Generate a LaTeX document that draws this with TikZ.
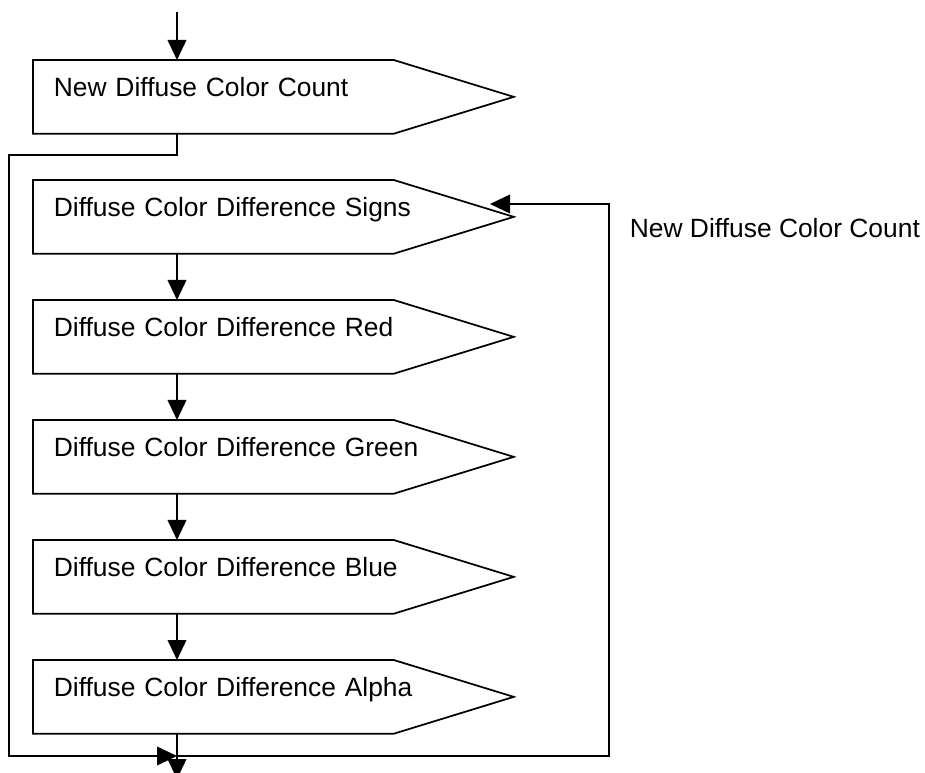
\documentclass[tikz,border=0pt]{standalone}
\usepackage{fontspec}
\setmainfont{Liberation Sans}
\usetikzlibrary{arrows.meta,calc}

\begin{document}
\begin{tikzpicture}[x=0.75pt,y=-0.75pt,line width=1.3pt,font=\fontsize{19.8}{23}\selectfont, tag/.style={anchor=north west,minimum width=359.25pt,minimum height=54pt,inner xsep=15pt,inner ysep=0pt,text width=329.25pt,align=left,text height=27pt,text depth=27pt}, arrow/.style={-{Triangle[length=15pt,width=14pt]}}]
\useasboundingbox (0,0) rectangle (925,773);
\coordinate (col) at (177,0);
\node[tag] (cnt) at (33,60) {New Diffuse Color Count};
\node[tag] (sgn) at (33,180) {Diffuse Color Difference Signs};
\node[tag] (red) at (33,300) {Diffuse Color Difference Red};
\node[tag] (grn) at (33,420) {Diffuse Color Difference Green};
\node[tag] (blu) at (33,540) {Diffuse Color Difference Blue};
\node[tag] (alp) at (33,660) {Diffuse Color Difference Alpha};
\node[anchor=base west,inner sep=0pt] (lbl) at (629,238) {New Diffuse Color Count};
% pointed outlines
\draw (cnt.north west) -- ($(cnt.north east)+(-120,0)$) -- (cnt.east) -- ($(cnt.south east)+(-120,0)$) -- (cnt.south west) -- cycle;
\draw (sgn.north west) -- ($(sgn.north east)+(-120,0)$) -- (sgn.east) -- ($(sgn.south east)+(-120,0)$) -- (sgn.south west) -- cycle;
\draw (red.north west) -- ($(red.north east)+(-120,0)$) -- (red.east) -- ($(red.south east)+(-120,0)$) -- (red.south west) -- cycle;
\draw (grn.north west) -- ($(grn.north east)+(-120,0)$) -- (grn.east) -- ($(grn.south east)+(-120,0)$) -- (grn.south west) -- cycle;
\draw (blu.north west) -- ($(blu.north east)+(-120,0)$) -- (blu.east) -- ($(blu.south east)+(-120,0)$) -- (blu.south west) -- cycle;
\draw (alp.north west) -- ($(alp.north east)+(-120,0)$) -- (alp.east) -- ($(alp.south east)+(-120,0)$) -- (alp.south west) -- cycle;
% loop points
\coordinate (start) at (177,12);\coordinate (lt) at (9,155);\coordinate (lb) at (9,756);\coordinate (join) at (177,756);\coordinate (rb) at (609,756);\coordinate (in) at (490,204);\coordinate (out) at (177,779);
\draw[arrow] (start) -- (cnt.north -| col);
\draw[arrow] (cnt.south -| col) |- (lt) -- (lb) -- (join);
\draw[arrow] (join) -- (rb) |- (in);
\draw[arrow] (sgn.south -| col) -- (red.north -| col);\draw[arrow] (red.south -| col) -- (grn.north -| col);\draw[arrow] (grn.south -| col) -- (blu.north -| col);\draw[arrow] (blu.south -| col) -- (alp.north -| col);
\draw[arrow] (alp.south -| col) -- (out);
\end{tikzpicture}
\end{document}
